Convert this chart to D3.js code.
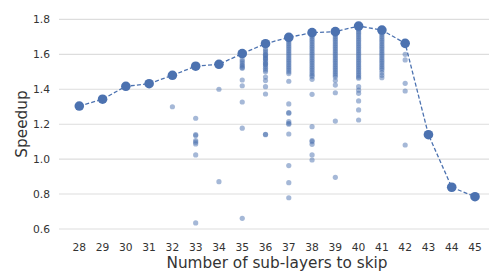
<!DOCTYPE html>
<html>
<head>
<meta charset="utf-8">
<script src="https://cdn.jsdelivr.net/npm/d3@7"></script>
<style>
  body { margin: 0; background: #fff; }
  text { font-family: "DejaVu Sans", sans-serif; }
</style>
</head>
<body>
<div id="container"></div>
<script>
// sub-layers skipped (x) and the best speedup found for each
const layers = [28, 29, 30, 31, 32, 33, 34, 35, 36, 37, 38, 39, 40, 41, 42, 43, 44, 45];
const bestSpeedup = [1.304, 1.343, 1.417, 1.432, 1.48, 1.532, 1.543, 1.604, 1.661, 1.697,
                     1.724, 1.73, 1.762, 1.739, 1.663, 1.14, 0.839, 0.785];

// every other configuration tried, per number of skipped sub-layers
const trials32 = [1.30];
const trials33 = [1.234, 1.14, 1.135, 1.106, 1.097, 1.087, 1.024, 0.635];
const trials34 = [1.40, 0.871];
const trials35 = [1.57, 1.56, 1.55, 1.54, 1.533, 1.525, 1.52, 1.453, 1.42, 1.327, 1.177, 0.661];
const trials36 = [1.63, 1.62, 1.61, 1.60, 1.595, 1.59, 1.58, 1.575, 1.57, 1.56, 1.55, 1.545,
                  1.54, 1.53, 1.52, 1.51, 1.50, 1.47, 1.45, 1.415, 1.373, 1.142, 1.14];
const trials37 = [1.68, 1.67, 1.66, 1.65, 1.64, 1.63, 1.62, 1.61, 1.60, 1.59, 1.58, 1.57,
                  1.56, 1.55, 1.54, 1.53, 1.52, 1.51, 1.50, 1.49, 1.446, 1.316, 1.266,
                  1.263, 1.215, 1.205, 1.20, 1.144, 0.963, 0.865, 0.779];
const trials38 = [1.71, 1.70, 1.69, 1.68, 1.67, 1.66, 1.65, 1.64, 1.63, 1.62, 1.61, 1.60,
                  1.59, 1.58, 1.57, 1.56, 1.55, 1.54, 1.53, 1.52, 1.51, 1.50, 1.49, 1.48,
                  1.472, 1.457, 1.371, 1.186, 1.106, 1.10, 1.085, 1.024, 0.995];
const trials39 = [1.72, 1.71, 1.70, 1.69, 1.68, 1.67, 1.66, 1.65, 1.64, 1.63, 1.62, 1.61,
                  1.60, 1.59, 1.58, 1.57, 1.56, 1.55, 1.54, 1.53, 1.52, 1.51, 1.50, 1.49,
                  1.48, 1.47, 1.45, 1.424, 1.38, 1.218, 0.896];
const trials40 = [1.75, 1.74, 1.73, 1.72, 1.71, 1.70, 1.69, 1.68, 1.67, 1.66, 1.65, 1.64,
                  1.63, 1.62, 1.61, 1.60, 1.59, 1.58, 1.57, 1.56, 1.55, 1.54, 1.53, 1.52,
                  1.51, 1.50, 1.49, 1.48, 1.47, 1.463, 1.415, 1.395, 1.377, 1.333, 1.282, 1.224];
const trials41 = [1.73, 1.72, 1.71, 1.70, 1.69, 1.68, 1.67, 1.66, 1.65, 1.64, 1.63, 1.62,
                  1.61, 1.60, 1.59, 1.58, 1.57, 1.56, 1.55, 1.54, 1.53, 1.52, 1.51,
                  1.495, 1.48, 1.466];
const trials42 = [1.60, 1.568, 1.434, 1.39, 1.081];

const trialsByLayer = {32: trials32, 33: trials33, 34: trials34, 35: trials35, 36: trials36,
                       37: trials37, 38: trials38, 39: trials39, 40: trials40, 41: trials41, 42: trials42};

const yTicks = [0.6, 0.8, 1.0, 1.2, 1.4, 1.6, 1.8];

const width = 489
, height = 271
, plotLeft = 59
, plotRight = 489
, blue = "#4c72b0"
, gridColor = "#dddddd"
, textColor = "#333333";

var x = d3.scaleLinear().domain([28, 45]).range([79.3, 475]);
var y = d3.scaleLinear().domain([0.6, 1.8]).range([229, 19.4]);

var svg = d3.select("#container")
  .append("svg")
  .attr("width", width)
  .attr("height", height);

// gridlines
svg.selectAll(".grid")
  .data(yTicks)
  .enter().append("line")
  .attr("class", "grid")
  .attr("x1", plotLeft)
  .attr("x2", plotRight)
  .attr("y1", d => y(d))
  .attr("y2", d => y(d))
  .style("stroke", gridColor)
  .style("stroke-width", 1.1);

// y tick labels
svg.selectAll(".ytick")
  .data(yTicks)
  .enter().append("text")
  .attr("class", "ytick")
  .attr("x", 50)
  .attr("y", d => y(d))
  .attr("dy", "0.35em")
  .attr("text-anchor", "end")
  .style("font-size", "10.7px")
  .style("fill", textColor)
  .text(d => d.toFixed(1));

// x tick labels
svg.selectAll(".xtick")
  .data(layers)
  .enter().append("text")
  .attr("class", "xtick")
  .attr("x", d => x(d))
  .attr("y", 247)
  .attr("dy", "0.35em")
  .attr("text-anchor", "middle")
  .style("font-size", "10.7px")
  .style("fill", textColor)
  .text(d => d);

// axis titles
svg.append("text")
  .attr("x", 277)
  .attr("y", 263)
  .attr("dy", "0.35em")
  .attr("text-anchor", "middle")
  .style("font-size", "15.3px")
  .style("fill", textColor)
  .text("Number of sub-layers to skip");

svg.append("text")
  .attr("transform", "translate(22,124) rotate(-90)")
  .attr("dy", "0.35em")
  .attr("text-anchor", "middle")
  .style("font-size", "15.3px")
  .style("fill", textColor)
  .text("Speedup");

// all tried configurations
var trialPoints = [];
Object.keys(trialsByLayer).forEach(function(k) {
  trialsByLayer[k].forEach(function(v) {
    trialPoints.push({layer: +k, speedup: v});
  });
});

svg.selectAll(".trial")
  .data(trialPoints)
  .enter().append("circle")
  .attr("class", "trial")
  .attr("cx", d => x(d.layer))
  .attr("cy", d => y(d.speedup))
  .attr("r", 2.6)
  .style("fill", blue)
  .style("opacity", 0.5);

// best speedup line
var bestData = layers.map((l, i) => [l, bestSpeedup[i]]);

var line = d3.line()
  .x(d => x(d[0]))
  .y(d => y(d[1]));

svg.append("path")
  .datum(bestData)
  .attr("d", line)
  .style("fill", "none")
  .style("stroke", blue)
  .style("stroke-width", 1.3)
  .style("stroke-dasharray", "4,2.2");

svg.selectAll(".best")
  .data(bestData)
  .enter().append("circle")
  .attr("class", "best")
  .attr("cx", d => x(d[0]))
  .attr("cy", d => y(d[1]))
  .attr("r", 4.8)
  .style("fill", blue);
</script>
</body>
</html>
